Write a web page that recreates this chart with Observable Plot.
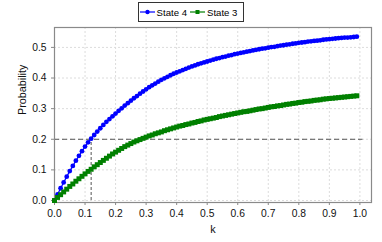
<!DOCTYPE html>
<html><head><meta charset="utf-8">
<script src="https://cdn.jsdelivr.net/npm/d3@7"></script>
<script src="https://cdn.jsdelivr.net/npm/@observablehq/plot@0.6"></script>
<style>
html,body{margin:0;padding:0;background:#fff;}
#wrap{width:382px;height:242px;font-family:"Liberation Sans",Arial,sans-serif;}
#legend{height:24px;display:flex;justify-content:center;align-items:flex-start;}
#legend .box{margin-top:2px;border:1.5px solid #333;height:20px;box-sizing:border-box;display:flex;align-items:center;padding:0 3px 0 1px;font-size:9.6px;color:#000;}
#legend .item{display:flex;align-items:center;margin-right:3px;}
#legend svg{margin-right:2px;}
</style></head>
<body><div id="wrap"><div id="legend"></div><div id="chart"></div></div>
<script>
const kValues = [0.00,0.01,0.02,0.03,0.04,0.05,0.06,0.07,0.08,0.09,
0.10,0.11,0.12,0.13,0.14,0.15,0.16,0.17,0.18,0.19,
0.20,0.21,0.22,0.23,0.24,0.25,0.26,0.27,0.28,0.29,
0.30,0.31,0.32,0.33,0.34,0.35,0.36,0.37,0.38,0.39,
0.40,0.41,0.42,0.43,0.44,0.45,0.46,0.47,0.48,0.49,
0.50,0.51,0.52,0.53,0.54,0.55,0.56,0.57,0.58,0.59,
0.60,0.61,0.62,0.63,0.64,0.65,0.66,0.67,0.68,0.69,
0.70,0.71,0.72,0.73,0.74,0.75,0.76,0.77,0.78,0.79,
0.80,0.81,0.82,0.83,0.84,0.85,0.86,0.87,0.88,0.89,
0.90,0.91,0.92,0.93,0.94,0.95,0.96,0.97,0.98,0.99];

const state4 = [0.000,0.020,0.040,0.059,0.078,0.096,0.113,0.130,0.146,0.161,
0.176,0.190,0.202,0.214,0.225,0.236,0.247,0.257,0.266,0.275,
0.284,0.293,0.301,0.310,0.318,0.326,0.334,0.341,0.349,0.356,
0.363,0.370,0.376,0.382,0.388,0.394,0.399,0.404,0.409,0.414,
0.418,0.422,0.426,0.430,0.434,0.438,0.441,0.445,0.448,0.451,
0.454,0.457,0.460,0.463,0.465,0.468,0.470,0.473,0.475,0.478,
0.480,0.482,0.484,0.486,0.488,0.490,0.492,0.494,0.496,0.497,
0.499,0.501,0.502,0.504,0.506,0.507,0.509,0.510,0.512,0.513,
0.515,0.516,0.517,0.519,0.520,0.521,0.522,0.523,0.525,0.526,
0.527,0.528,0.529,0.530,0.531,0.532,0.532,0.533,0.534,0.535];

const state3 = [0.000,0.010,0.019,0.028,0.037,0.046,0.054,0.063,0.071,0.079,
0.087,0.095,0.102,0.110,0.117,0.124,0.131,0.138,0.145,0.152,
0.158,0.164,0.170,0.176,0.181,0.186,0.191,0.195,0.199,0.203,
0.207,0.211,0.214,0.218,0.221,0.224,0.228,0.231,0.234,0.237,
0.240,0.243,0.245,0.248,0.250,0.253,0.255,0.258,0.260,0.263,
0.265,0.267,0.269,0.271,0.274,0.276,0.278,0.280,0.282,0.284,
0.286,0.288,0.290,0.291,0.293,0.295,0.297,0.299,0.300,0.302,
0.304,0.306,0.307,0.309,0.310,0.312,0.314,0.315,0.317,0.318,
0.320,0.321,0.323,0.324,0.325,0.327,0.328,0.329,0.331,0.332,
0.333,0.334,0.335,0.336,0.337,0.338,0.339,0.340,0.341,0.342];

const xTicks = [0.0,0.1,0.2,0.3,0.4,0.5,0.6,0.7,0.8,0.9,1.0];
const yTicks = [0.0,0.1,0.2,0.3,0.4,0.5];
const threshold = [0.2];
const kCross = [0.12];
const thresholdEnd = [1.01];
const seriesNames = ["State 4","State 3"];
const seriesColors = ["#0000ff","#008000"];

const d4 = kValues.map((k,i)=>({k, p: state4[i]}));
const d3s = kValues.map((k,i)=>({k, p: state3[i]}));

const chart = Plot.plot({
  width: 382, height: 218,
  marginTop: 3, marginBottom: 40, marginLeft: 54, marginRight: 11,
  style: {fontFamily: '"Liberation Sans",Arial,sans-serif', fontSize: "10.3px", color: "#111", background: "#fff"},
  x: {domain: [0, 1.038], ticks: xTicks, tickFormat: d3.format(".1f"), label: null},
  y: {domain: [-0.0065, 0.565], ticks: yTicks, tickFormat: d3.format(".1f"), label: null},
  marks: [
    Plot.gridX(xTicks.slice(1), {stroke: "#dcdcdc", strokeOpacity: 1, strokeDasharray: "2,2"}),
    Plot.gridY(yTicks, {stroke: "#dcdcdc", strokeOpacity: 1, strokeDasharray: "2,2"}),
    Plot.ruleY(threshold, {x1: 0, x2: thresholdEnd[0], stroke: "#555", strokeDasharray: "5,3"}),
    Plot.ruleX(kCross, {y1: 0, y2: threshold[0], stroke: "#555", strokeDasharray: "3,2"}),
    Plot.frame({stroke: "#8a8a8a", strokeWidth: 1.2}),
    Plot.axisX({ticks: xTicks, tickFormat: d3.format(".1f"), tickSize: 3, tickPadding: 4, stroke: "#888", label: null}),
    Plot.axisY({ticks: yTicks, tickFormat: d3.format(".1f"), tickSize: 3, tickPadding: 5, stroke: "#888", label: null}),
    Plot.line(d4, {x: "k", y: "p", stroke: seriesColors[0], strokeWidth: 1.2}),
    Plot.dot(d4, {x: "k", y: "p", r: 2.4, fill: seriesColors[0], stroke: "none"}),
    Plot.line(d3s, {x: "k", y: "p", stroke: seriesColors[1], strokeWidth: 1.2}),
    Plot.dot(d3s, {x: "k", y: "p", symbol: "square", r: 2.8, fill: seriesColors[1], stroke: "none"}),
    Plot.text(["k"], {frameAnchor: "bottom", dy: 30, fontSize: 10.8, fill: "#111"}),
    Plot.text(["Probability"], {frameAnchor: "left", dx: -32, rotate: -90, fontSize: 10.8, fill: "#111"})
  ]
});
document.getElementById("chart").appendChild(chart);

// legend
const box = document.createElement("div"); box.className = "box";
seriesNames.forEach((name, i) => {
  const item = document.createElement("div"); item.className = "item";
  const ns = "http://www.w3.org/2000/svg";
  const s = document.createElementNS(ns, "svg");
  s.setAttribute("width", 15); s.setAttribute("height", 10);
  const ln = document.createElementNS(ns, "line");
  ln.setAttribute("x1", 0); ln.setAttribute("x2", 15); ln.setAttribute("y1", 5); ln.setAttribute("y2", 5);
  ln.setAttribute("stroke", seriesColors[i]); ln.setAttribute("stroke-width", 1.2);
  s.appendChild(ln);
  let m;
  if (i === 0) { m = document.createElementNS(ns, "circle"); m.setAttribute("cx", 7.5); m.setAttribute("cy", 5); m.setAttribute("r", 2.2); }
  else { m = document.createElementNS(ns, "rect"); m.setAttribute("x", 5.5); m.setAttribute("y", 3); m.setAttribute("width", 4); m.setAttribute("height", 4); }
  m.setAttribute("fill", seriesColors[i]);
  s.appendChild(m);
  item.appendChild(s);
  const t = document.createElement("span"); t.textContent = name; item.appendChild(t);
  box.appendChild(item);
});
document.getElementById("legend").appendChild(box);
</script></body></html>
